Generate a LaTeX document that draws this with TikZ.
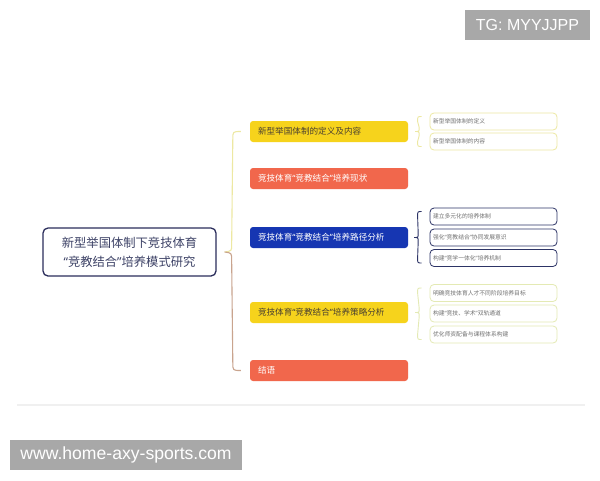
\documentclass[tikz,border=0pt]{standalone}
\usepackage{fontspec}
\setmainfont{Noto Sans CJK SC}
\newfontfamily\wmfont{Liberation Sans}
\newfontfamily\qfont{Noto Sans}
\newcommand\oq{{\qfont “}}
\newcommand\cq{{\qfont ”}}
\usetikzlibrary{calc}
\definecolor{rootc}{HTML}{2B2E5C}
\definecolor{roottxt}{HTML}{3D4266}
\definecolor{ylw}{HTML}{F6D31C}
\definecolor{org}{HTML}{F1674C}
\definecolor{blu}{HTML}{1636B2}
\definecolor{ylwtxt}{HTML}{4A4030}
\definecolor{leaftxt}{HTML}{707070}
\definecolor{bry}{HTML}{EDE8A2}
\definecolor{brb}{HTML}{C9A48E}
\definecolor{brn}{HTML}{2D3466}
\definecolor{brg}{HTML}{E4EAB4}
\definecolor{wm}{HTML}{A8A8A8}
\begin{document}
\begin{tikzpicture}[x=1pt,y=-1pt,
  rootbox/.style={draw=rootc, line width=1.3pt, rounded corners=5pt, fill=white,
    minimum width=173pt, minimum height=48pt, align=center,
    font=\fontsize{12.3}{19}\selectfont, text=roottxt, inner sep=0pt},
  branch/.style={rounded corners=3pt, minimum height=21pt, text width=142pt,
    inner xsep=8pt, inner ysep=0pt, align=left, font=\fontsize{8.6}{10}\selectfont},
  leaf/.style={rounded corners=4pt, line width=0.8pt, fill=white, minimum height=17pt,
    text width=121pt, inner xsep=3pt, inner ysep=0pt, align=left,
    font=\fontsize{5.8}{7}\selectfont, text=leaftxt},
  bracel/.style={line width=1.1pt},
  wmbox/.style={fill=wm, text=white, inner sep=0pt}
]
\useasboundingbox (0,0) rectangle (600,480);
\fill[white] (0,0) rectangle (600,480);

% faint frame line
\draw[line width=1.5pt, color=black!6] (17,405) -- (585,405);

% root
\node[rootbox] (root) at (129.5,252) {新型举国体制下竞技体育\\\oq 竞教结合\cq 培养模式研究};

% branches
\node[branch, fill=ylw, text=ylwtxt] (b1) at (329,131.5) {新型举国体制的定义及内容};
\node[branch, fill=org, text=white] (b2) at (329,178.5) {竞技体育\oq 竞教结合\cq 培养现状};
\node[branch, fill=blu, text=white] (b3) at (329,237.5) {竞技体育\oq 竞教结合\cq 培养路径分析};
\node[branch, fill=ylw, text=ylwtxt] (b4) at (329,312.5) {竞技体育\oq 竞教结合\cq 培养策略分析};
\node[branch, fill=org, text=white] (b5) at (329,370.5) {结语};

% leaves
\node[leaf, draw=bry] (l1) at (493.5,121.5) {新型举国体制的定义};
\node[leaf, draw=bry] (l2) at (493.5,141.5) {新型举国体制的内容};
\node[leaf, draw=brn] (l3) at (493.5,216.5) {建立多元化的培养体制};
\node[leaf, draw=brn] (l4) at (493.5,237.5) {强化\oq 竞教结合\cq 协同发展意识};
\node[leaf, draw=brn] (l5) at (493.5,258) {构建\oq 竞学一体化\cq 培养机制};
\node[leaf, draw=brg] (l6) at (493.5,293) {明确竞技体育人才不同阶段培养目标};
\node[leaf, draw=brg] (l7) at (493.5,313.5) {构建\oq 竞技、学术\cq 双轨通道};
\node[leaf, draw=brg] (l8) at (493.5,334.5) {优化师资配备与课程体系构建};

% main brace
\coordinate (tip) at ($(root.east)+(8,0)$);
\coordinate (t1) at ($(b1.west)+(-9,0)$);
\coordinate (t5) at ($(b5.west)+(-9,0)$);
\draw[bracel, draw=bry] (t1) .. controls ($(t1)+(-8,0)$) .. ($(t1)+(-8,8)$)
  -- ($(tip)+(7,-7)$) .. controls ($(tip)+(7,-1)$) .. (tip);
\draw[bracel, draw=brb] (tip) .. controls ($(tip)+(7,1)$) .. ($(tip)+(7,8)$)
  -- ($(t5)+(-8,-8)$) .. controls ($(t5)+(-8,0)$) .. (t5);

% small braces
\coordinate (g1) at ($(b1.east)+(7,0)$);
\coordinate (g3) at ($(b3.east)+(6,0)$);
\coordinate (g4) at ($(b4.east)+(7,0)$);
\draw[bracel, draw=bry, line width=0.9pt] ($(l1.west)+(-8,-5)$) .. controls ($(l1.west)+(-12,-5)$) .. ($(l1.west)+(-12,0)$)
  -- ($(g1)+(4,-4)$) .. controls ($(g1)+(4,0)$) .. (g1) .. controls ($(g1)+(4,0)$) .. ($(g1)+(4,4)$)
  -- ($(l2.west)+(-12,0)$) .. controls ($(l2.west)+(-12,5)$) .. ($(l2.west)+(-8,5)$);
\draw[bracel, draw=brn, line width=0.9pt] ($(l3.west)+(-8,-5)$) .. controls ($(l3.west)+(-12,-5)$) .. ($(l3.west)+(-12,0)$)
  -- ($(g3)+(4,-4)$) .. controls ($(g3)+(4,0)$) .. (g3) .. controls ($(g3)+(4,0)$) .. ($(g3)+(4,4)$)
  -- ($(l5.west)+(-12,0)$) .. controls ($(l5.west)+(-12,5)$) .. ($(l5.west)+(-8,5)$);
\draw[bracel, draw=brg, line width=0.9pt] ($(l6.west)+(-8,-5)$) .. controls ($(l6.west)+(-12,-5)$) .. ($(l6.west)+(-12,0)$)
  -- ($(g4)+(4,-4)$) .. controls ($(g4)+(4,0)$) .. (g4) .. controls ($(g4)+(4,0)$) .. ($(g4)+(4,4)$)
  -- ($(l8.west)+(-12,0)$) .. controls ($(l8.west)+(-12,5)$) .. ($(l8.west)+(-8,5)$);

% watermarks
\node[wmbox, font=\wmfont\fontsize{16}{18}\selectfont, minimum width=125pt, minimum height=30pt] (wm1) at (527.5,25) {TG: MYYJJPP};
\node[wmbox, font=\wmfont\fontsize{17.6}{20}\selectfont, minimum width=232pt, minimum height=30pt] (wm2) at (126,455) {www.home-axy-sports.com};
\end{tikzpicture}
\end{document}
